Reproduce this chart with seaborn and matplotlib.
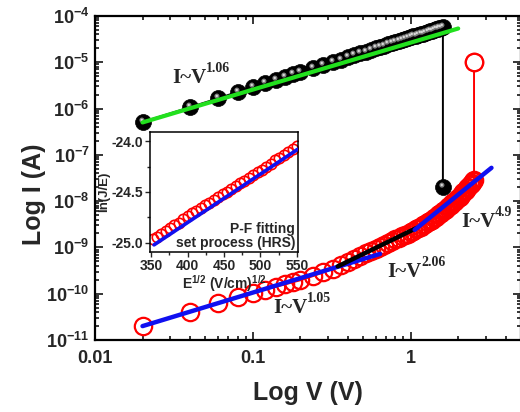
import numpy as np
import pandas as pd
import matplotlib
matplotlib.use("Agg")
import matplotlib.pyplot as plt
import seaborn as sns
from matplotlib.path import Path
from matplotlib.ticker import FixedLocator, NullFormatter, LogLocator

# ---- data ----
V_black = [0.02, 0.04, 0.06, 0.08, 0.10, 0.12, 0.14, 0.16, 0.18, 0.20,
           0.24, 0.28, 0.32, 0.36, 0.40, 0.44, 0.48, 0.52, 0.56, 0.60,
           0.64, 0.68, 0.72, 0.76, 0.80, 0.84, 0.88, 0.92, 0.96, 1.00,
           1.04, 1.08, 1.12, 1.16, 1.20, 1.24, 1.28, 1.32, 1.36, 1.40,
           1.44, 1.48, 1.52, 1.56, 1.60, 1.60]
logI_black = [-6.29, -5.97, -5.78, -5.64, -5.54, -5.45, -5.38, -5.32, -5.26, -5.21,
              -5.13, -5.06, -4.99, -4.94, -4.89, -4.85, -4.80, -4.77, -4.73, -4.70,
              -4.67, -4.64, -4.61, -4.59, -4.56, -4.54, -4.52, -4.50, -4.48, -4.46,
              -4.44, -4.43, -4.41, -4.39, -4.38, -4.36, -4.35, -4.33, -4.32, -4.30,
              -4.29, -4.28, -4.26, -4.25, -4.24, -7.70]

V_red = [0.02, 0.04, 0.06, 0.08, 0.10, 0.12, 0.14, 0.16, 0.18, 0.20,
         0.24, 0.28, 0.32, 0.36, 0.40, 0.44, 0.48, 0.52, 0.56, 0.60,
         0.64, 0.68, 0.72, 0.76, 0.80, 0.84, 0.88, 0.92, 0.96, 1.00,
         1.04, 1.08, 1.12, 1.16, 1.20, 1.24, 1.28, 1.32, 1.36, 1.40,
         1.44, 1.48, 1.52, 1.56, 1.60, 1.64, 1.68, 1.72, 1.76, 1.80,
         1.84, 1.88, 1.92, 1.96, 2.00, 2.04, 2.08, 2.12, 2.16, 2.20,
         2.24, 2.28, 2.32, 2.36, 2.40, 2.44, 2.48, 2.52, 2.52]
logI_red = [-10.70, -10.39, -10.20, -10.07, -9.98, -9.91, -9.85, -9.80, -9.75, -9.71,
            -9.62, -9.54, -9.46, -9.38, -9.31, -9.25, -9.19, -9.13, -9.08, -9.03,
            -8.98, -8.94, -8.90, -8.86, -8.82, -8.79, -8.76, -8.73, -8.70, -8.67,
            -8.64, -8.61, -8.58, -8.55, -8.52, -8.49, -8.46, -8.43, -8.40, -8.37,
            -8.34, -8.31, -8.28, -8.25, -8.22, -8.19, -8.16, -8.13, -8.10, -8.08,
            -8.05, -8.02, -7.99, -7.96, -7.93, -7.90, -7.87, -7.84, -7.81, -7.78,
            -7.75, -7.72, -7.69, -7.66, -7.63, -7.60, -7.57, -7.54, -5.00]

# fit lines: (V, log I) end points
fit_green_V = [0.02, 2.0]
fit_green_logI = [-6.30, -4.27]
fit_blue1_V = [0.02, 0.64]
fit_blue1_logI = [-10.70, -9.14]
fit_black_V = [0.345, 1.09]
fit_black_logI = [-9.41, -8.58]
fit_blue2_V = [1.06, 3.25]
fit_blue2_logI = [-8.62, -7.28]

# inset: Poole-Frenkel plot
E_sqrt = [352, 358, 364, 370, 376, 382, 388, 394, 400, 406, 412, 418, 424, 430,
          436, 442, 448, 454, 460, 466, 472, 478, 484, 490, 496, 502, 508, 514,
          520, 526, 532, 538, 544, 550]
ln_JE = [-24.96, -24.94, -24.91, -24.88, -24.85, -24.82, -24.80, -24.77, -24.74,
         -24.71, -24.69, -24.66, -24.63, -24.61, -24.58, -24.55, -24.52, -24.50,
         -24.47, -24.44, -24.41, -24.39, -24.36, -24.33, -24.30, -24.28, -24.25,
         -24.22, -24.19, -24.17, -24.14, -24.11, -24.08, -24.05]
pf_fit_x = [354, 551]
pf_fit_y = [-25.02, -24.08]

ytick_exp = [-11, -10, -9, -8, -7, -6, -5, -4]

sns.set_theme(style="ticks")
plt.rcParams['font.family'] = ['Liberation Sans', 'DejaVu Sans']
plt.rcParams['font.weight'] = 'bold'
plt.rcParams['mathtext.fontset'] = 'custom'
plt.rcParams['mathtext.bf'] = 'Liberation Sans:bold'
plt.rcParams['mathtext.rm'] = 'Liberation Sans:bold'
plt.rcParams['axes.unicode_minus'] = False

fig = plt.figure(figsize=(5.2, 4.12), dpi=100)
ax = fig.add_axes([95 / 520, 72 / 412, 426 / 520, 324 / 412])
ax.set_xscale('log')
ax.set_yscale('log')


def ball_marker(cx, cy, r):
    c = Path.circle((cx, cy), r)
    verts = np.vstack([c.vertices, [[-1, -1], [1, 1]]])
    codes = np.concatenate([c.codes, [Path.MOVETO, Path.MOVETO]])
    return Path(verts, codes)


df_black = pd.DataFrame({"V": V_black, "I": 10 ** np.array(logI_black)})
df_red = pd.DataFrame({"V": V_red, "I": 10 ** np.array(logI_red)})

# red open circles (HRS)
sns.lineplot(data=df_red, x="V", y="I", sort=False, estimator=None, ax=ax,
             color='red', lw=1.4, marker='o', markersize=12.5, markerfacecolor='none',
             markeredgecolor='red', markeredgewidth=1.6, zorder=3)
ax.plot(V_red[-1:], 10 ** np.array(logI_red[-1:]), 'o', ms=12.5, mfc='white',
        mec='red', mew=1.6, zorder=3)

# black spheres
sns.lineplot(data=df_black, x="V", y="I", sort=False, estimator=None, ax=ax,
             color='black', lw=1.4, marker='o', markersize=11.5, markerfacecolor='black',
             markeredgecolor='black', markeredgewidth=0.5, zorder=4)
ax.plot(df_black["V"], df_black["I"], ls='none', marker=ball_marker(-0.2, 0.3, 0.32),
        ms=11.5, mfc='#7d7d7d', mec='none', zorder=5)
ax.plot(df_black["V"], df_black["I"], ls='none', marker=ball_marker(-0.22, 0.32, 0.15),
        ms=11.5, mfc='#d8d8d8', mec='none', zorder=6)

# fits
ax.plot(fit_green_V, 10 ** np.array(fit_green_logI), color='#22e01e', lw=3, zorder=7)
ax.plot(fit_blue1_V, 10 ** np.array(fit_blue1_logI), color='#1010f0', lw=3.2, zorder=7)
ax.plot(fit_black_V, 10 ** np.array(fit_black_logI), color='black', lw=3.2, zorder=7)
ax.plot(fit_blue2_V, 10 ** np.array(fit_blue2_logI), color='#1010f0', lw=3.2, zorder=7)

ax.set_xlim(0.01, 5)
ax.set_ylim(1e-11, 1e-4)
ax.set_xticks([0.01, 0.1, 1])
ax.set_xticklabels(['0.01', '0.1', '1'])
ax.xaxis.set_minor_locator(LogLocator(base=10, subs=np.arange(2, 10)))
ax.xaxis.set_minor_formatter(NullFormatter())
ax.set_yticks([10.0 ** e for e in ytick_exp])
ax.set_yticklabels([r'$\mathbf{10^{%d}}$' % e for e in ytick_exp])
ax.yaxis.set_minor_locator(LogLocator(base=10, subs=np.arange(2, 10), numticks=20))
ax.yaxis.set_minor_formatter(NullFormatter())
ax.tick_params(which='both', direction='in', top=True, right=True, width=1.3)
ax.tick_params(which='major', length=6, labelsize=13)
ax.tick_params(axis='x', which='major', pad=7)
ax.tick_params(axis='y', which='major', pad=4)
ax.tick_params(which='minor', length=3)
for s in ax.spines.values():
    s.set_linewidth(1.6)
    s.set_color('black')
ax.set_xlabel('Log V (V)', fontsize=18, fontweight='bold', labelpad=10)
ax.set_ylabel('Log I (A)', fontsize=18, fontweight='bold')
ax.yaxis.set_label_coords(-0.115, 0.45)


def power_label(x, logy, base, exp):
    t = ax.text(x, 10 ** logy, base, fontsize=15, fontweight='bold',
                family=['Liberation Serif'], ha='left', va='baseline', zorder=8)
    ax.annotate(exp, xy=(1, 1), xycoords=t, xytext=(-0.5, -5), textcoords='offset points',
                fontsize=10, fontweight='bold', family=['Liberation Serif'],
                ha='left', va='bottom', zorder=8)


power_label(0.031, -5.45, 'I~V', '1.06')
power_label(0.134, -10.41, 'I~V', '1.05')
power_label(0.714, -9.64, 'I~V', '2.06')
power_label(2.10, -8.56, 'I~V', '4.9')

# ---- inset ----
ax2 = fig.add_axes([150 / 520, 160 / 412, 148 / 520, 120 / 412])
df_pf = pd.DataFrame({"E": E_sqrt, "lnJE": ln_JE})
sns.lineplot(data=df_pf, x="E", y="lnJE", sort=False, estimator=None, ax=ax2,
             lw=0, marker='o', markersize=7.5, markerfacecolor='none',
             markeredgecolor='red', markeredgewidth=1.2, color='red')
ax2.plot(pf_fit_x, pf_fit_y, color='#1010f0', lw=2.6, zorder=5)
ax2.set_xlim(348.5, 551.5)
ax2.set_ylim(-25.09, -23.91)
ax2.set_xticks([350, 400, 450, 500, 550])
ax2.xaxis.set_minor_locator(FixedLocator([375, 425, 475, 525]))
ax2.set_yticks([-25.0, -24.5, -24.0])
ax2.set_yticklabels(['-25.0', '-24.5', '-24.0'])
ax2.yaxis.set_minor_locator(FixedLocator([-24.75, -24.25]))
ax2.tick_params(which='both', direction='out', width=1.0, labelsize=10, pad=1.5)
ax2.tick_params(which='major', length=3.5)
ax2.tick_params(which='minor', length=2)
for s in ax2.spines.values():
    s.set_linewidth(1.1)
    s.set_color('black')
ax2.set_xlabel(r'E$^{1/2}$ (V/cm)$^{1/2}$', fontsize=10, fontweight='bold', labelpad=0)
ax2.set_ylabel('ln(J/E)', fontsize=9.5, fontweight='bold', labelpad=1)
ax2.text(0.98, 0.02, 'P-F fitting\nset process (HRS)', transform=ax2.transAxes,
         ha='right', va='bottom', fontsize=10, fontweight='bold', linespacing=1.0)

fig.savefig('out.png', dpi=100)
